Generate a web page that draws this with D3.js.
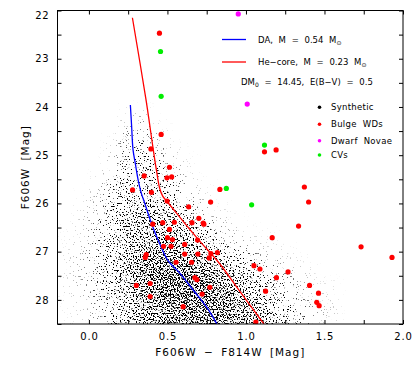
<!DOCTYPE html>
<html>
<head>
<meta charset="utf-8">
<script src="https://cdn.jsdelivr.net/npm/d3@7"></script>
<style>
  body { margin: 0; background: #fff; }
  text { font-family: "DejaVu Sans", sans-serif; fill: #000; }
</style>
</head>
<body>
<svg id="chart" width="415" height="368"></svg>
<script>
// cooling tracks [colour, mag]
const daTrack = [
  [0.264, 23.96], [0.272, 24.4], [0.281, 24.89], [0.297, 25.2], [0.314, 25.52],
  [0.333, 25.78], [0.356, 26.0], [0.398, 26.41], [0.45, 26.83], [0.503, 27.18],
  [0.58, 27.45], [0.665, 27.8], [0.75, 28.15], [0.815, 28.5]
];
const heTrack = [
  [0.277, 22.15], [0.364, 23.86], [0.41, 24.89], [0.43, 25.31], [0.45, 25.68],
  [0.47, 25.85], [0.495, 25.95], [0.55, 26.17], [0.62, 26.45], [0.70, 26.76],
  [0.83, 27.24], [0.96, 27.82], [1.114, 28.5]
];

// observed sources [colour, mag]
const bulgeWDs = [
  [0.449, 22.47], [0.46, 24.57], [0.395, 24.87], [0.513, 25.25], [0.352, 25.43],
  [0.497, 25.47], [0.527, 25.45], [0.278, 25.72], [0.398, 25.77], [0.498, 25.95],
  [1.118, 24.93], [1.192, 24.89], [1.372, 25.66], [0.834, 25.71], [1.399, 25.97],
  [0.775, 25.97], [0.732, 26.43], [0.70, 26.31], [1.335, 26.47], [1.733, 26.9],
  [1.93, 27.12], [1.405, 27.7], [1.462, 27.86], [1.451, 28.05], [1.466, 28.12],
  [1.167, 26.71], [0.777, 27.04], [0.818, 27.02], [0.766, 27.13], [1.051, 27.29],
  [1.089, 27.36], [1.268, 27.42], [1.194, 27.54], [1.125, 27.82], [0.77, 27.74],
  [0.721, 27.88], [1.063, 28.46], [0.635, 26.07], [0.656, 26.4], [0.728, 26.41],
  [0.47, 26.4], [0.544, 26.39], [0.407, 26.43], [0.513, 26.54], [0.50, 26.71],
  [0.532, 26.75], [0.475, 26.89], [0.523, 26.89], [0.61, 26.85], [0.692, 26.76],
  [0.365, 27.06], [0.359, 27.12], [0.61, 27.05], [0.694, 27.05], [0.555, 27.22],
  [0.654, 27.22], [0.675, 27.54], [0.688, 27.58], [0.302, 27.7], [0.39, 27.66],
  [0.39, 27.93], [0.60, 28.14]
];
const dwarfNovae = [[0.951, 22.07], [1.008, 23.94]];
const cvs = [[0.456, 22.85], [0.46, 23.78], [1.118, 24.79], [0.875, 25.69], [1.036, 26.03]];

// synthetic population, read as a 2D density (fraction of ink per cell)
const synthColorBins = [-0.2, -0.1, 0.0, 0.1, 0.2, 0.3, 0.4, 0.5, 0.6, 0.7, 0.8, 0.9, 1.0, 1.1, 1.2, 1.3, 1.4, 1.5];
const synthMagBins = [24.0, 24.25, 24.5, 24.75, 25.0, 25.25, 25.5, 25.75, 26.0, 26.25, 26.5, 26.75, 27.0, 27.25, 27.5, 27.75, 28.0, 28.25];
const synthDensity = [
  [0, 0, 0, 0, 0.03, 0.03, 0, 0, 0, 0, 0, 0, 0, 0, 0, 0, 0, 0],
  [0, 0, 0, 0, 0.06, 0.08, 0.02, 0, 0, 0, 0, 0, 0, 0, 0, 0, 0, 0],
  [0, 0, 0, 0.01, 0.10, 0.12, 0.05, 0, 0, 0, 0, 0, 0, 0, 0, 0, 0, 0],
  [0, 0, 0, 0.03, 0.12, 0.15, 0.08, 0.02, 0, 0, 0, 0, 0, 0, 0, 0, 0, 0],
  [0, 0, 0, 0.05, 0.14, 0.17, 0.12, 0.05, 0.01, 0, 0, 0, 0, 0, 0, 0, 0, 0],
  [0, 0, 0.01, 0.08, 0.18, 0.22, 0.16, 0.08, 0.02, 0, 0, 0, 0, 0, 0, 0, 0, 0],
  [0, 0, 0.03, 0.12, 0.22, 0.26, 0.20, 0.12, 0.04, 0.01, 0, 0, 0, 0, 0, 0, 0, 0],
  [0, 0.01, 0.05, 0.15, 0.26, 0.30, 0.26, 0.16, 0.07, 0.02, 0, 0, 0, 0, 0, 0, 0, 0],
  [0, 0.02, 0.07, 0.18, 0.30, 0.35, 0.33, 0.24, 0.13, 0.05, 0.02, 0, 0, 0, 0, 0, 0, 0],
  [0, 0.03, 0.09, 0.20, 0.33, 0.40, 0.40, 0.32, 0.20, 0.10, 0.04, 0.01, 0, 0, 0, 0, 0, 0],
  [0.01, 0.03, 0.10, 0.22, 0.35, 0.45, 0.47, 0.42, 0.30, 0.18, 0.08, 0.04, 0.02, 0.01, 0, 0, 0, 0],
  [0.01, 0.04, 0.11, 0.24, 0.38, 0.50, 0.55, 0.50, 0.42, 0.28, 0.15, 0.07, 0.04, 0.02, 0.01, 0, 0, 0],
  [0.02, 0.05, 0.12, 0.25, 0.40, 0.55, 0.62, 0.62, 0.55, 0.42, 0.30, 0.18, 0.10, 0.05, 0.03, 0.01, 0, 0],
  [0.02, 0.05, 0.12, 0.25, 0.42, 0.60, 0.70, 0.72, 0.68, 0.58, 0.45, 0.30, 0.20, 0.12, 0.06, 0.03, 0.01, 0],
  [0.02, 0.05, 0.12, 0.25, 0.42, 0.60, 0.72, 0.78, 0.76, 0.68, 0.56, 0.42, 0.30, 0.18, 0.10, 0.05, 0.02, 0.01],
  [0.02, 0.04, 0.10, 0.22, 0.40, 0.55, 0.66, 0.72, 0.74, 0.70, 0.60, 0.48, 0.36, 0.24, 0.14, 0.07, 0.03, 0.02],
  [0.01, 0.03, 0.08, 0.20, 0.35, 0.50, 0.60, 0.66, 0.70, 0.70, 0.64, 0.55, 0.42, 0.30, 0.18, 0.10, 0.05, 0.03],
  [0.01, 0.02, 0.07, 0.18, 0.32, 0.46, 0.56, 0.62, 0.66, 0.68, 0.64, 0.56, 0.46, 0.34, 0.22, 0.12, 0.06, 0.03]
];
const colorBinWidth = 0.1;
const magBinHeight = 0.25;

const xTicks = [0, 0.25, 0.5, 0.75, 1.0, 1.25, 1.5, 1.75, 2.0];
const yTicks = [22, 22.5, 23, 23.5, 24, 24.5, 25, 25.5, 26, 26.5, 27, 27.5, 28, 28.5];

const margin = { top: 10.5, right: 12, bottom: 44, left: 57.5 };
const W = 415, H = 368;
const chartWidth = W - margin.left - margin.right;
const chartHeight = H - margin.top - margin.bottom;

const svg = d3.select('#chart');
const g = svg.append('g').attr('transform', `translate(${margin.left},${margin.top})`);

const xScale = d3.scaleLinear().domain([-0.2, 2.0]).range([0, chartWidth]);
const yScale = d3.scaleLinear().domain([22, 28.5]).range([0, chartHeight]);

const defs = svg.append('defs');
defs.append('clipPath').attr('id', 'plotclip')
  .append('rect').attr('width', chartWidth).attr('height', chartHeight);

// smooth the density cells, then break them into speckles like single stars
const speckle = defs.append('filter').attr('id', 'speckle')
  .attr('filterUnits', 'userSpaceOnUse')
  .attr('x', -20).attr('y', -20).attr('width', chartWidth + 40).attr('height', chartHeight + 60);
speckle.append('feGaussianBlur').attr('in', 'SourceGraphic').attr('stdDeviation', 5).attr('result', 'blur');
speckle.append('feComponentTransfer').attr('in', 'blur').attr('result', 'dens')
  .append('feFuncA').attr('type', 'table')
  .attr('tableValues', '0 0.13 0.22 0.3 0.37 0.43 0.48 0.53 0.57 0.61 0.65');
speckle.append('feTurbulence').attr('type', 'fractalNoise').attr('baseFrequency', 0.7)
  .attr('numOctaves', 1).attr('seed', 7).attr('result', 'noise');
speckle.append('feColorMatrix').attr('in', 'noise').attr('type', 'matrix')
  .attr('values', '0 0 0 0 0  0 0 0 0 0  0 0 0 0 0  2.5 0 0 0 -0.75').attr('result', 'grain');
speckle.append('feComposite').attr('in', 'dens').attr('in2', 'grain').attr('operator', 'arithmetic')
  .attr('k1', 0).attr('k2', 6).attr('k3', -6).attr('k4', 0);

// synthetic density
const cells = [];
synthDensity.forEach((row, i) => {
  row.forEach((v, j) => {
    if (v > 0) cells.push({ c: synthColorBins[j], m: synthMagBins[i], v, last: i === synthDensity.length - 1 });
  });
});
const plot = g.append('g').attr('clip-path', 'url(#plotclip)');
plot.append('g').attr('filter', 'url(#speckle)')
  .selectAll('rect').data(cells).enter().append('rect')
  .attr('x', d => xScale(d.c))
  .attr('y', d => yScale(d.m))
  .attr('width', d => xScale(d.c + colorBinWidth) - xScale(d.c))
  .attr('height', d => yScale(d.m + magBinHeight * (d.last ? 2 : 1)) - yScale(d.m))
  .attr('fill', '#000')
  .attr('fill-opacity', d => d.v);

// tracks
const line = d3.line().x(d => xScale(d[0])).y(d => yScale(d[1])).curve(d3.curveCatmullRom.alpha(0.5));
plot.append('path').datum(daTrack).attr('d', line)
  .attr('fill', 'none').attr('stroke', '#0000ff').attr('stroke-width', 1.3);
plot.append('path').datum(heTrack).attr('d', line)
  .attr('fill', 'none').attr('stroke', '#ff0000').attr('stroke-width', 1.3);

// points
function dots(data, color, r) {
  plot.append('g').selectAll('circle').data(data).enter().append('circle')
    .attr('cx', d => xScale(d[0])).attr('cy', d => yScale(d[1]))
    .attr('r', r).attr('fill', color);
}
dots(bulgeWDs, '#ff0000', 2.6);
dots(cvs, '#00ee00', 2.6);
dots(dwarfNovae, '#ff00ff', 2.6);

// axes (ticks inward on all sides)
const fmtX = d => (Math.abs(d * 2 - Math.round(d * 2)) < 1e-6 ? d3.format('.1f')(d) : '');
const fmtY = d => (Number.isInteger(d) ? d3.format('d')(d) : '');

const xBottom = g.append('g').attr('transform', `translate(0,${chartHeight})`)
  .call(d3.axisBottom(xScale).tickValues(xTicks).tickSize(-4).tickPadding(9).tickFormat(fmtX));
const xTop = g.append('g')
  .call(d3.axisTop(xScale).tickValues(xTicks).tickSize(-4).tickFormat(''));
const yLeft = g.append('g')
  .call(d3.axisLeft(yScale).tickValues(yTicks).tickSize(-4).tickPadding(8).tickFormat(fmtY));
const yRight = g.append('g').attr('transform', `translate(${chartWidth},0)`)
  .call(d3.axisRight(yScale).tickValues(yTicks).tickSize(-4).tickFormat(''));

[xBottom, xTop, yLeft, yRight].forEach(a => {
  a.select('.domain').remove();
  a.selectAll('line').attr('stroke', '#000');
  a.selectAll('text').style('font-size', '10px').style('letter-spacing', '0.8px')
    .style('font-family', '"DejaVu Sans", sans-serif');
});
// keep the top label inside the frame
yLeft.selectAll('.tick').filter(d => d === 22).select('text').attr('dy', '0.8em');

g.append('rect').attr('width', chartWidth).attr('height', chartHeight)
  .attr('fill', 'none').attr('stroke', '#000').attr('stroke-width', 1);

// axis titles
svg.append('text')
  .attr('x', margin.left + chartWidth / 2).attr('y', 356)
  .attr('text-anchor', 'middle')
  .style('font-size', '10.5px').style('letter-spacing', '1px').style('word-spacing', '3px')
  .text('F606W \u2212 F814W [Mag]');
svg.append('text')
  .attr('transform', `translate(29,${margin.top + chartHeight / 2}) rotate(-90)`)
  .attr('text-anchor', 'middle')
  .style('font-size', '10.5px').style('letter-spacing', '1px').style('word-spacing', '3px')
  .text('F606W [Mag]');

// legend: tracks
const legend = svg.append('g').style('font-size', '8.5px').style('word-spacing', '3px');
const trackLegend = [
  { color: '#0000ff', label: 'DA, M = 0.54 M', y: 39.5 },
  { color: '#ff0000', label: 'He\u2212core, M = 0.23 M', y: 62 }
];
trackLegend.forEach(t => {
  legend.append('line').attr('x1', 222).attr('x2', 246).attr('y1', t.y).attr('y2', t.y)
    .attr('stroke', t.color).attr('stroke-width', 1.3);
  const txt = legend.append('text').attr('x', 258).attr('y', t.y + 3).text(t.label);
  txt.append('tspan').attr('dy', 2).style('font-size', '6px').text('\u2299');
});
const dm = legend.append('text').attr('x', 241).attr('y', 84.5).text('DM');
dm.append('tspan').attr('dy', 2).style('font-size', '6px').text('0');
dm.append('tspan').attr('dy', -2).text(' = 14.45, E(B\u2212V) = 0.5');

// legend: sources
const pointLegend = [
  { color: '#000000', label: 'Synthetic', y: 107.3 },
  { color: '#ff0000', label: 'Bulge WDs', y: 124.3 },
  { color: '#ff00ff', label: 'Dwarf Novae', y: 140.7 },
  { color: '#00ee00', label: 'CVs', y: 155 }
];
pointLegend.forEach(p => {
  legend.append('circle').attr('cx', 319.5).attr('cy', p.y).attr('r', 1.8).attr('fill', p.color);
  legend.append('text').attr('x', 331).attr('y', p.y + 3).style('letter-spacing', '0.3px').text(p.label);
});
</script>
</body>
</html>
